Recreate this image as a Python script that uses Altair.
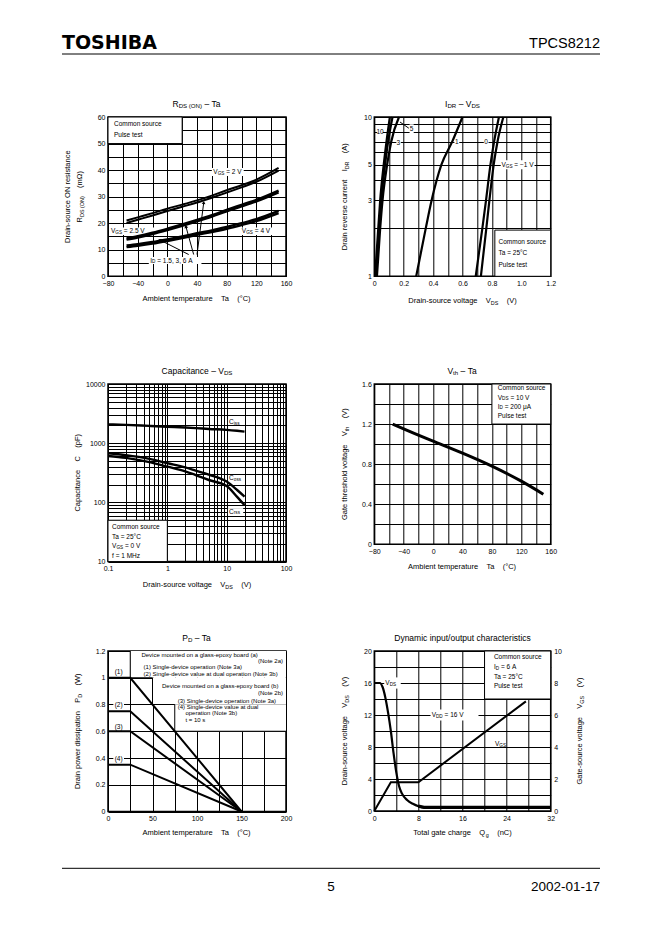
import math
import re
import altair as alt
import pandas as pd

FONT = "Liberation Sans"
NB = "\u00a0"

# ---------------- data ----------------
# Panel 1: RDS(ON) - Ta
rds_ta = [-55, -40, -20, 0, 20, 40, 60, 80, 100, 120, 150]
rds_vgs2_a = [21.0, 22.2, 23.8, 25.5, 27.0, 28.6, 30.4, 32.4, 34.3, 36.4, 40.8]
rds_vgs2_b = [20.1, 21.3, 22.9, 24.6, 26.2, 27.8, 29.6, 31.5, 33.5, 35.6, 39.8]
rds_vgs25_a = [13.8, 14.6, 15.9, 17.4, 19.0, 20.7, 22.5, 24.5, 26.3, 28.2, 31.6]
rds_vgs25_b = [14.3, 15.1, 16.4, 17.9, 19.5, 21.2, 23.0, 25.0, 26.9, 28.8, 32.3]
rds_vgs4_a = [11.0, 11.5, 12.3, 13.3, 14.4, 15.6, 16.7, 17.9, 19.3, 20.8, 23.8]
rds_vgs4_b = [11.6, 12.1, 12.9, 13.9, 15.0, 16.2, 17.3, 18.6, 20.0, 21.5, 24.6]
arrow_from_ta = [28.8, 35.5, 40.0]
arrow_from_r = [8.2, 8.2, 8.2]
arrow_to_ta = [-9.4, 25.2, 49.0]
arrow_to_r = [13.6, 18.6, 27.6]

# Panel 2: IDR - VDS
idr_vals = [1, 2, 3, 5, 7, 10]
vds_g10 = [0.005, 0.027, 0.040, 0.064, 0.083, 0.106]
vds_g5 = [0.011, 0.033, 0.047, 0.073, 0.094, 0.124]
vds_g3 = [0.018, 0.040, 0.056, 0.087, 0.115, 0.168]
vds_g1 = [0.285, 0.350, 0.390, 0.456, 0.530, 0.600]
vds_g0 = [0.690, 0.735, 0.760, 0.790, 0.815, 0.848]
vds_gm1 = [0.725, 0.762, 0.783, 0.812, 0.838, 0.878]

# Panel 3: Capacitance - VDS
cap_vds = [0.1, 0.2, 0.5, 1, 2, 3, 5, 10, 15, 20]
ciss = [2080, 2040, 1960, 1900, 1840, 1800, 1740, 1680, 1620, 1570]
coss = [675, 630, 545, 460, 390, 345, 295, 225, 162, 125]
crss = [608, 565, 480, 401, 335, 290, 239, 189, 124, 90]

# Panel 4: Vth - Ta
vth_ta = [-55, -20, 0, 40, 80, 120, 150]
vth_v = [1.2, 1.09, 1.03, 0.91, 0.78, 0.63, 0.5]

# Panel 5: PD - Ta
pd_ta = [0, 25, 150]
pd_1 = [1.0, 1.0, 0]
pd_2 = [0.75, 0.75, 0]
pd_3 = [0.6, 0.6, 0]
pd_4 = [0.35, 0.35, 0]
step_x = [25, 25, 50, 50, 75, 75, 200]
step_y = [1.2, 1.0, 1.0, 0.8, 0.8, 0.6, 0.6]

# Panel 6: dynamic input/output
qg_vds = [0, 1.0, 1.5, 2.0, 2.5, 3.0, 3.5, 4.0, 4.5, 5.0, 6.0, 7.0, 8.0, 9.0, 32]
vds_q = [16, 16, 15.5, 14.2, 12.3, 10.0, 7.2, 4.8, 3.1, 2.2, 1.35, 0.9, 0.6, 0.45, 0.45]
qg_vgs = [0, 3.0, 8.0, 27.5]
vgs_q = [0, 1.8, 1.8, 6.85]

# ---------------- text metrics (Arial / Liberation Sans, per 1000 em) ----------------
AW = {" ": 278, NB: 278, "!": 278, "(": 333, ")": 333, "-": 333, ".": 278, "/": 278, ",": 278,
      ":": 278, "=": 584, "°": 400, "μ": 576, "Ω": 768, "–": 556, "−": 584}
for ch in "0123456789":
    AW[ch] = 556
AW.update(dict(zip("ABCDEFGHIJKLMNOPQRSTUVWXYZ",
                   [667, 667, 722, 722, 667, 611, 778, 722, 278, 500, 667, 556, 833, 722, 778,
                    667, 778, 722, 667, 611, 722, 667, 944, 667, 667, 611])))
AW.update(dict(zip("abcdefghijklmnopqrstuvwxyz",
                   [556, 556, 500, 556, 556, 278, 556, 556, 222, 222, 500, 222, 833, 556, 556,
                    556, 556, 333, 500, 278, 556, 500, 722, 500, 500, 500])))
SUB = 0.72


def tw(s, size):
    return sum(AW.get(c, 556) for c in s) * size / 1000.0


def parse(s):
    out = []
    for m in re.finditer(r"_\{([^}]*)\}|([^_]+)", s):
        if m.group(1) is not None:
            out.append((m.group(1).replace(" ", NB), True))
        else:
            out.append((m.group(2).replace(" ", NB), False))
    return out


one = pd.DataFrame({"a": [0]})


def rich(s, size, enc, data=one, align="left", angle=0):
    """Text with subscripts: one text mark per piece, laid out along the text direction."""
    pieces = parse(s)
    widths = [tw(t, size * (SUB if sub else 1)) for t, sub in pieces]
    total = sum(widths)
    cur = {"left": 0, "center": -total / 2, "right": -total}[align]
    layers = []
    for (t, sub), w in zip(pieces, widths):
        fs = size * SUB if sub else size
        body = t.lstrip(NB)
        lead = tw(t[:len(t) - len(body)], fs)
        body = body.rstrip(NB)
        if body:
            mk = dict(text=body, font=FONT, fontSize=fs, align="left", baseline="middle",
                      color="black", dx=cur + lead, dy=size * 0.27 if sub else 0)
            if angle:
                mk["angle"] = angle
            layers.append(alt.Chart(data).mark_text(**mk).encode(**enc))
        cur += w
    return layers


def at(px, py):
    return dict(x=alt.value(px), y=alt.value(py))


def anchor(px, py):
    # invisible white dot that pins the layout bounds of a panel (bounds reach 1.5px around it)
    return alt.Chart(one).mark_point(filled=True, size=1, color="white", opacity=1,
                                     strokeWidth=0).encode(x=alt.value(px), y=alt.value(py))


def ax(values, expr, **kw):
    base = dict(values=values, labelExpr=expr, title="", grid=True, ticks=False,
                domain=False, gridColor="black", gridWidth=1, gridOpacity=1,
                labelFont=FONT, labelFontSize=7, labelColor="black", labelPadding=3,
                labelFlush=False, labelOverlap=False)
    base.update(kw)
    return alt.Axis(**base)


class Panel:
    def __init__(self, xsc, ysc, xa, ya, w, h):
        self.xsc, self.ysc, self.xa, self.ya, self.w, self.h = xsc, ysc, xa, ya, w, h

    def X(self, f="x"):
        return alt.X(f + ":Q", scale=self.xsc, axis=self.xa)

    def Y(self, f="y"):
        return alt.Y(f + ":Q", scale=self.ysc, axis=self.ya)

    def line(self, xs, ys, w=2.2, interp="monotone"):
        df = pd.DataFrame({"x": xs, "y": ys, "i": list(range(len(xs)))})
        return alt.Chart(df).mark_line(color="black", strokeWidth=w, interpolate=interp).encode(
            x=self.X(), y=self.Y(), order="i:Q")

    def rect(self, x1, x2, y1, y2, border=False):
        df = pd.DataFrame({"x": x1, "x2": x2, "y": y1, "y2": y2})
        kw = dict(fill="white", opacity=1)
        if border:
            kw.update(stroke="black", strokeWidth=1)
        return alt.Chart(df).mark_rect(**kw).encode(
            x=self.X(), x2="x2:Q", y=self.Y(), y2="y2:Q")

    def text(self, s, x, y, align="left", size=6.5):
        df = pd.DataFrame({"x": [x], "y": [y]})
        return rich(s, size, dict(x=self.X(), y=self.Y()), data=df, align=align)

    def texts(self, items, align="left", size=6.5):
        out = []
        for s, x, y in items:
            out += self.text(s, x, y, align, size)
        return out

    def seg(self, x1, y1, x2, y2, w=1):
        df = pd.DataFrame({"x": x1, "y": y1, "x2": x2, "y2": y2})
        return alt.Chart(df).mark_rule(color="black", strokeWidth=w).encode(
            x=self.X(), y=self.Y(), x2="x2:Q", y2="y2:Q")

    def titles(self, top, xt, yt, ytx=-30, xty=23):
        out = rich(top, 8.5, at(self.w / 2, -13), align="center")
        out += rich(xt, 7.5, at(self.w / 2, self.h + xty), align="center")
        if isinstance(yt, list):
            for s, tx in yt:
                out += rich(s, 7.5, at(tx, self.h / 2), align="center", angle=270)
        else:
            out += rich(yt, 7.5, at(ytx, self.h / 2), align="center", angle=270)
        return out


every = lambda step: f"abs(datum.value/{step} - round(datum.value/{step})) < 1e-6 ? datum.label : ''"
pow10 = "abs(log(datum.value)/LN10 - round(log(datum.value)/LN10)) < 1e-6 ? format(datum.value, '~g') : ''"
SP = "    "
TA_TITLE = f"Ambient temperature{SP}Ta{SP}(°C)"
VDS_TITLE = f"Drain-source voltage{SP}V_{{DS}}{SP}(V)"

# layout pins (pixels relative to each plot area; each pin's bounds reach 1.5px out)
TOP = -23.5          # top bound of every panel -> -25
LEFT_L = -98.5       # left column: left bound -100 (page x 8 -> plot at 108)
LEFT_R = 186.5       # left column: right bound 188
RIGHT_L = -48.5      # right column: left bound -50
BOT12 = 240.5        # rows 1-2 bottom bound 242
BOT3 = 189.5         # row 3 bottom bound 191


def pins_left(bottom):
    return [anchor(LEFT_L, TOP), anchor(LEFT_R, bottom)]


def pins_right(bottom):
    return [anchor(RIGHT_L, TOP), anchor(0, bottom)]


# ---------------- Panel 1 ----------------
W1, H1 = 178, 159.3
p = Panel(alt.Scale(domain=[-80, 160], nice=False, zero=False),
          alt.Scale(domain=[0, 60], nice=False),
          ax(list(range(-80, 161, 20)), every(40)),
          ax(list(range(0, 61, 5)), every(10)), W1, H1)
angles = []
for a, b, c, d in zip(arrow_from_ta, arrow_from_r, arrow_to_ta, arrow_to_r):
    ddx = (c - a) * W1 / 240.0
    ddy = -(d - b) * H1 / 60.0
    angles.append(math.degrees(math.atan2(ddx, -ddy)) % 360)
heads = alt.Chart(pd.DataFrame({"x": arrow_to_ta, "y": arrow_to_r, "ang": angles})).mark_point(
    shape="triangle", filled=True, size=14, color="black", opacity=1).encode(
    x=p.X(), y=p.Y(), angle=alt.Angle("ang:Q", scale=None))
p1 = alt.layer(
    p.rect([-80], [20], [50], [60], border=True),
    p.rect([60, -78, 99, -25], [103, -12, 146, 46], [37.8, 15.6, 15.6, 4.6], [40.8, 18.4, 18.4, 7.3]),
    p.line(rds_ta, rds_vgs2_a, 2.0), p.line(rds_ta, rds_vgs2_b, 2.0),
    p.line(rds_ta, rds_vgs25_a, 2.4), p.line(rds_ta, rds_vgs25_b, 2.4),
    p.line(rds_ta, rds_vgs4_a, 2.4), p.line(rds_ta, rds_vgs4_b, 2.4),
    p.seg(arrow_from_ta, arrow_from_r, arrow_to_ta, arrow_to_r), heads,
    *p.texts([("Common source", -72, 57.4), ("Pulse test", -72, 53.1),
              ("V_{GS} = 2 V", 62, 39.2), ("V_{GS} = 2.5 V", -76, 16.9),
              ("V_{GS} = 4 V", 100.5, 16.9), ("I_{D} = 1.5, 3, 6 A", -23, 5.9)]),
    *p.titles("R_{DS (ON)} – Ta", TA_TITLE,
              [("Drain-source ON resistance", -40), (f"R_{{DS (ON)}}{SP}(mΩ)", -28.5)]),
    *pins_left(BOT12),
).properties(width=W1, height=H1)

# ---------------- Panel 2 ----------------
W2, H2 = 176.4, 159.3
p = Panel(alt.Scale(domain=[0, 1.2], nice=False, zero=False),
          alt.Scale(type="log", domain=[1, 10], nice=False),
          ax([round(i * 0.1, 1) for i in range(13)],
             "abs(datum.value*5 - round(datum.value*5)) < 1e-6 ? (datum.value == 0 ? '0' : format(datum.value, '.1f')) : ''"),
          ax(list(range(1, 11)),
             "indexof([1, 3, 5, 10], datum.value) >= 0 ? format(datum.value, '~g') : ''"), W2, H2)
p2 = alt.layer(
    p.rect([0.82], [1.2], [1], [1.95], border=True),
    p.rect([0.02, 0.24, 0.15, 0.545, 0.745, 0.86], [0.058, 0.268, 0.18, 0.578, 0.777, 1.09],
           [7.5, 7.9, 6.5, 6.6, 6.6, 4.7], [8.6, 9.0, 7.4, 7.5, 7.5, 5.35]),
    p.line(vds_g10, idr_vals), p.line(vds_g5, idr_vals), p.line(vds_g3, idr_vals),
    p.line(vds_g1, idr_vals), p.line(vds_g0, idr_vals), p.line(vds_gm1, idr_vals),
    p.seg([0.175], [9.3], [0.235], [8.5]),
    *p.texts([("10", 0.039, 8.0), ("5", 0.254, 8.4), ("3", 0.163, 6.9), ("1", 0.561, 7.0),
              ("0", 0.761, 7.0)], align="center"),
    *p.texts([("V_{GS} = −1 V", 0.865, 5.0), ("Common source", 0.845, 1.63),
              ("Ta = 25°C", 0.845, 1.40), ("Pulse test", 0.845, 1.18)]),
    *p.titles("I_{DR} – V_{DS}", VDS_TITLE, f"Drain reverse current{SP}I_{{DR}}{SP}(A)",
              ytx=-29, xty=25),
    *pins_right(BOT12),
).properties(width=W2, height=H2)

# ---------------- Panel 3 ----------------
W3, H3 = 178, 177.6
logv = lambda lo, hi: [round(d * 10 ** e, 6) for e in range(lo, hi) for d in range(1, 10)] + [round(10 ** hi, 6)]
p = Panel(alt.Scale(type="log", domain=[0.1, 100], nice=False),
          alt.Scale(type="log", domain=[10, 10000], nice=False),
          ax(logv(-1, 2), pow10), ax(logv(1, 4), pow10), W3, H3)
p3 = alt.layer(
    p.rect([0.1], [1], [10], [50], border=True),
    p.rect([10.5, 10.5, 10.5], [19, 19, 19], [2050, 228, 62], [2600, 288, 80]),
    p.line(cap_vds, ciss, 2.4), p.line(cap_vds, coss, 2.4), p.line(cap_vds, crss, 2.4),
    *p.texts([("C_{iss}", 11, 2290), ("C_{oss}", 11, 255), ("C_{rss}", 11, 70),
              ("Common source", 0.117, 39), ("Ta = 25°C", 0.117, 26.4),
              ("V_{GS} = 0 V", 0.117, 18.4), ("f = 1 MHz", 0.117, 12.6)]),
    *p.titles("Capacitance – V_{DS}", VDS_TITLE, f"Capacitance{SP}C{SP}(pF)", ytx=-30),
    *pins_left(BOT12),
).properties(width=W3, height=H3)

# ---------------- Panel 4 ----------------
W4, H4 = 176.4, 160.3
p = Panel(alt.Scale(domain=[-80, 160], nice=False, zero=False),
          alt.Scale(domain=[0, 1.6], nice=False),
          ax(list(range(-80, 161, 20)), every(40)),
          ax([round(i * 0.2, 1) for i in range(9)],
             "abs(datum.value/0.4 - round(datum.value/0.4)) < 1e-6 ? format(datum.value, '~g') : ''"),
          W4, H4)
p4 = alt.layer(
    p.rect([80], [160], [1.2], [1.6], border=True),
    p.line(vth_ta, vth_v, 3.0),
    *p.texts([("Common source", 88, 1.557), ("V_{DS} = 10 V", 88, 1.464),
              ("I_{D} = 200 μA", 88, 1.374), ("Pulse test", 88, 1.284)]),
    *p.titles("V_{th} – Ta", TA_TITLE, f"Gate threshold voltage{SP}V_{{th}}{SP}(V)", ytx=-29),
    *pins_right(BOT12),
).properties(width=W4, height=H4)

# ---------------- Panel 5 ----------------
W5, H5 = 178, 160.5
p = Panel(alt.Scale(domain=[0, 200], nice=False, zero=False),
          alt.Scale(domain=[0, 1.2], nice=False),
          ax(list(range(0, 201, 25)), every(50)),
          ax([round(i * 0.2, 1) for i in range(7)], "format(datum.value, '~g')"), W5, H5)
p5 = alt.layer(
    p.rect([25, 50, 75], [200, 200, 200], [1.0, 0.8, 0.6], [1.2, 1.0, 0.8]),
    p.rect([6, 6], [18, 18], [0.76, 0.36], [0.84, 0.42]),
    p.line(step_x, step_y, 1.0, "linear"),
    p.line(pd_ta, pd_1, 2.0, "linear"), p.line(pd_ta, pd_2, 2.0, "linear"),
    p.line(pd_ta, pd_3, 2.0, "linear"), p.line(pd_ta, pd_4, 2.0, "linear"),
    *p.texts([("(1)", 12, 1.045), ("(2)", 12, 0.797), ("(3)", 12, 0.635), ("(4)", 12, 0.39)],
             align="center"),
    *p.texts([("Device mounted on a glass-epoxy board (a)", 37.5, 1.17),
              ("(1) Single-device operation (Note 3a)", 40, 1.083),
              ("(2) Single-device value at dual operation (Note 3b)", 40, 1.028),
              ("Device mounted on a glass-epoxy board (b)", 60.7, 0.94),
              ("(3) Single-device operation (Note 3a)", 78.3, 0.826),
              ("(4) Single-device value at dual", 78.3, 0.779),
              ("operation (Note 3b)", 87, 0.734),
              ("t = 10 s", 87, 0.685)], size=6),
    *p.texts([("(Note 2a)", 196.6, 1.125), ("(Note 2b)", 196.6, 0.889)], align="right", size=6),
    *p.titles("P_{D} – Ta", TA_TITLE, f"Drain power dissipation{SP}P_{{D}}{SP}(W)", ytx=-30, xty=21),
    *pins_left(BOT3),
).properties(width=W5, height=H5)

# ---------------- Panel 6 ----------------
W6, H6 = 176.4, 160
p = Panel(alt.Scale(domain=[0, 32], nice=False, zero=False),
          alt.Scale(domain=[0, 20], nice=False),
          ax(list(range(0, 33, 4)), every(8)), ax(list(range(0, 21, 2)), every(4)), W6, H6)
left6 = alt.layer(
    p.rect([20], [32], [14], [20], border=True),
    p.rect([1.8, 10.2], [4.8, 18.9], [15.3, 11.3], [16.7, 12.7]),
    p.line(qg_vds, vds_q, 2.2),
    p.line(qg_vds[-3:], vds_q[-3:], 3.4, "linear"),
    *p.texts([("V_{DS}", 2.0, 16), ("V_{DD} = 16 V", 10.4, 12), ("V_{GS}", 21.9, 8.4),
              ("Common source", 21.7, 19.2), ("I_{D} = 6 A", 21.7, 18.0),
              ("Ta = 25°C", 21.7, 16.8), ("Pulse test", 21.7, 15.6)]),
    *p.titles("Dynamic input/output characteristics", f"Total gate charge{SP}Q_{{g}}{SP}(nC)",
              f"Drain-source voltage{SP}V_{{DS}}{SP}(V)", ytx=-29, xty=22),
    *rich(f"Gate-source voltage{SP}V_{{GS}}{SP}(V)", 7.5, at(W6 + 29, H6 / 2),
          align="center", angle=270),
    *pins_right(BOT3),
)
pr = Panel(p.xsc, alt.Scale(domain=[0, 10], nice=False), p.xa,
           ax([0, 2, 4, 6, 8, 10], "datum.label", orient="right", grid=False), W6, H6)
right6 = pr.line(qg_vgs, vgs_q, 2.0, "linear")
p6 = alt.layer(left6, right6).resolve_scale(y="independent").properties(width=W6, height=H6)

# ---------------- header / footer ----------------
NOSTROKE = alt.ViewBackground(stroke="transparent")
header = alt.layer(
    anchor(LEFT_L, 1.5), anchor(0, 81.2),
    alt.Chart(one).mark_text(text="TOSHIBA", font="DejaVu Sans", fontWeight="bold", fontSize=19,
                             align="left", baseline="alphabetic", color="black").encode(
        x=alt.value(-46), y=alt.value(40)),
    alt.Chart(one).mark_text(text="TPCS8212", font=FONT, fontSize=14.5, align="right",
                             baseline="alphabetic", color="black").encode(
        x=alt.value(492), y=alt.value(39)),
    alt.Chart(one).mark_rule(color="black", strokeWidth=1).encode(
        x=alt.value(-46), x2=alt.value(492), y=alt.value(45)),
).properties(width=442, height=1, view=NOSTROKE)

footer = alt.layer(
    anchor(LEFT_L, 1.5),
    alt.Chart(one).mark_rule(color="black", strokeWidth=1).encode(
        x=alt.value(-46), x2=alt.value(492), y=alt.value(25.3)),
    alt.Chart(one).mark_text(text="5", font=FONT, fontSize=13.5, align="center",
                             baseline="alphabetic", color="black").encode(
        x=alt.value(223), y=alt.value(47.8)),
    alt.Chart(one).mark_text(text="2002-01-17", font=FONT, fontSize=13.5, align="right",
                             baseline="alphabetic", color="black").encode(
        x=alt.value(492), y=alt.value(47.8)),
).properties(width=442, height=1, view=NOSTROKE)

HSP = 374.3 - 108 - 188 - 50
row1 = alt.hconcat(p1, p2, spacing=HSP)
row2 = alt.hconcat(p3, p4, spacing=HSP)
row3 = alt.hconcat(p5, p6, spacing=HSP)

chart = alt.vconcat(header, row1, row2, row3, footer, spacing=0).properties(
    padding=0, background="white"
).configure_view(stroke="black", strokeWidth=1.5)

chart.save("out.html", embed_options={"renderer": "svg", "actions": False})
